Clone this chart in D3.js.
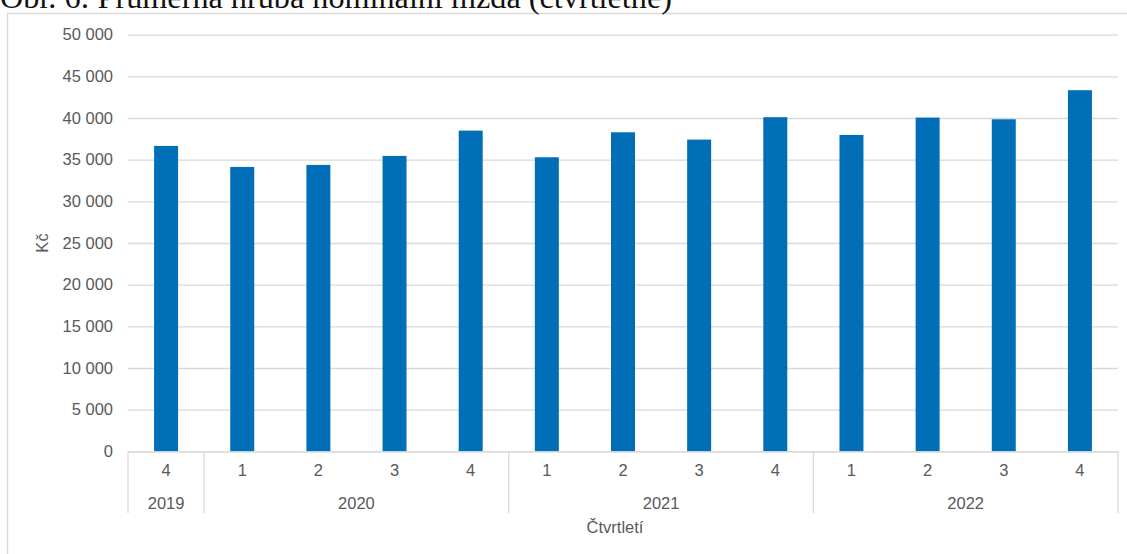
<!DOCTYPE html>
<html>
<head>
<meta charset="utf-8">
<script src="https://cdn.jsdelivr.net/npm/d3@7"></script>
<style>
  html, body { margin: 0; padding: 0; background: #fff; }
  svg { display: block; }
</style>
</head>
<body>
<svg id="chart" width="1127" height="554"></svg>
<script>
// Quarterly average gross nominal wage (CZK)
const years    = ["2019", "2020", "2020", "2020", "2020", "2021", "2021", "2021", "2021", "2022", "2022", "2022", "2022"];
const quarters = ["4", "1", "2", "3", "4", "1", "2", "3", "4", "1", "2", "3", "4"];
const wages    = [36650, 34130, 34370, 35450, 38490, 35290, 38290, 37410, 40100, 37970, 40050, 39850, 43340];
const yTicks   = [0, 5000, 10000, 15000, 20000, 25000, 30000, 35000, 40000, 45000, 50000];

const titleText = "Obr. 6: Průměrná hrubá nominální mzda (čtvrtletně)";
const yTitle = "Kč";
const xTitle = "Čtvrtletí";

const svg = d3.select("#chart");
const plot = { left: 128, right: 1118, top: 34.7, bottom: 451.3 };
const grid = "#d9d9d9";
const textCol = "#595959";
const barCol = "#006fb7";
const sans = "'Liberation Sans', Arial, sans-serif";

// chart frame (extends past the visible area on the right and bottom)
svg.append("rect")
  .attr("x", 7.5).attr("y", 13.5)
  .attr("width", 1140).attr("height", 600)
  .attr("fill", "none").attr("stroke", grid).attr("stroke-width", 1.5);

// caption above the frame
const title = svg.append("text")
  .attr("x", 0).attr("y", 8)
  .attr("font-family", "'Liberation Serif', 'Times New Roman', serif")
  .attr("font-size", 24)
  .attr("fill", "#111")
  .text(titleText);
const tl = title.node().getComputedTextLength();
title.attr("font-size", 24 * 672 / tl);

const idx = wages.map((d, i) => i);
const x = d3.scaleBand()
  .domain(idx)
  .range([plot.left, plot.right])
  .paddingInner(0.685)
  .paddingOuter(0.3425);
const step = x.step();

const y = d3.scaleLinear()
  .domain([0, 50000])
  .range([plot.bottom, plot.top]);

// horizontal gridlines + y labels
const fmt = v => d3.format(",")(v).replace(/,/g, " ");
const yAxis = d3.axisLeft(y).tickValues(yTicks).tickSize(0).tickPadding(15).tickFormat(fmt);
const yg = svg.append("g").attr("transform", `translate(${plot.left},0)`).call(yAxis);
yg.select(".domain").remove();
yg.selectAll("text").attr("font-family", sans).attr("font-size", 16.5).attr("fill", textCol);
yg.selectAll(".tick").append("line")
  .attr("x1", 0).attr("x2", plot.right - plot.left)
  .attr("stroke", grid).attr("stroke-width", 1.3);

// bars
svg.append("g").selectAll("rect")
  .data(wages)
  .join("rect")
  .attr("x", (d, i) => x(i))
  .attr("y", d => y(d))
  .attr("width", x.bandwidth())
  .attr("height", d => y(0) - y(d))
  .attr("fill", barCol);

// category axis: quarter row
const xAxis = d3.axisBottom(x).tickSize(0).tickPadding(13).tickFormat(i => quarters[i]);
const xg = svg.append("g").attr("transform", `translate(0,${plot.bottom})`).call(xAxis);
xg.select(".domain").attr("stroke", grid).attr("stroke-width", 1.3);
xg.selectAll("text").attr("font-family", sans).attr("font-size", 16.5).attr("fill", textCol);

// year groups with separators
const groups = [];
years.forEach((yr, i) => {
  const g = groups[groups.length - 1];
  if (g && g.year === yr) g.end = i; else groups.push({ year: yr, start: i, end: i });
});
const sepBottom = 513;
const bounds = groups.map(g => x(g.start) - step * 0.3425 / (1 - 0.685) * (1 - 0.685) - (step - x.bandwidth()) / 2);
const edge = i => plot.left + step * i;
const sepIdx = [0].concat(groups.map(g => g.end + 1));
svg.append("g").selectAll("line")
  .data(sepIdx)
  .join("line")
  .attr("x1", d => edge(d)).attr("x2", d => edge(d))
  .attr("y1", plot.bottom).attr("y2", sepBottom)
  .attr("stroke", grid).attr("stroke-width", 1.3);

svg.append("g").selectAll("text")
  .data(groups)
  .join("text")
  .attr("x", g => (edge(g.start) + edge(g.end + 1)) / 2)
  .attr("y", 509)
  .attr("text-anchor", "middle")
  .attr("font-family", sans).attr("font-size", 16.5).attr("fill", textCol)
  .text(g => g.year);

// axis titles
svg.append("text")
  .attr("x", 615).attr("y", 533)
  .attr("text-anchor", "middle")
  .attr("font-family", sans).attr("font-size", 16.5).attr("fill", textCol)
  .text(xTitle);

svg.append("text")
  .attr("transform", "translate(48,243) rotate(-90)")
  .attr("text-anchor", "middle")
  .attr("font-family", sans).attr("font-size", 16.5).attr("fill", textCol)
  .text(yTitle);
</script>
</body>
</html>
